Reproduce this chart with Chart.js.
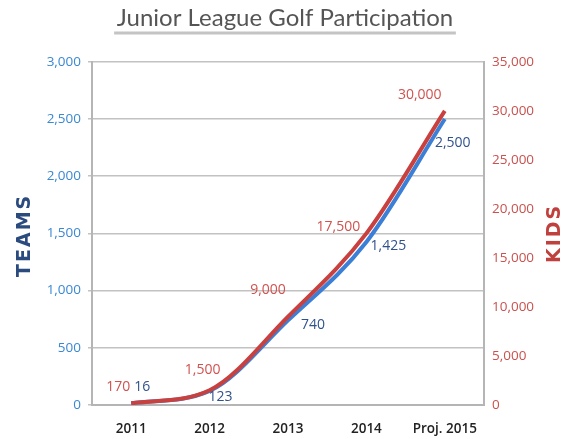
<!DOCTYPE html>
<html>
<head>
<meta charset="utf-8">
<script src="https://cdn.jsdelivr.net/npm/chart.js@4"></script>
<style>
  html, body { margin: 0; padding: 0; background: #fff; }
  #wrap { width: 570px; height: 439px; }
</style>
</head>
<body>
<div id="wrap"><canvas id="golfChart" width="570" height="439"></canvas></div>
<script>
// dados do gráfico
const anos = ['2011', '2012', '2013', '2014', 'Proj. 2015'];
const teams = [16, 123, 740, 1425, 2500];
const kids = [170, 1500, 9000, 17500, 30000];
const teamsTicks = [0, 500, 1000, 1500, 2000, 2500, 3000];
const kidsTicks = [0, 5000, 10000, 15000, 20000, 25000, 30000, 35000];

const FONT = '"Open Sans", "Liberation Sans", sans-serif';
const fmt = v => v.toLocaleString('en-US');

// rótulos de valores ao lado de cada ponto
const valueLabels = {
    id: 'valueLabels',
    afterDatasetsDraw(chart, args, opts) {
        const ctx = chart.ctx;
        ctx.save();
        ctx.font = '14px ' + FONT;
        ctx.textAlign = 'center';
        ctx.textBaseline = 'middle';
        chart.data.datasets.forEach((ds, i) => {
            const meta = chart.getDatasetMeta(i);
            const offs = opts.offsets[i];
            ctx.fillStyle = opts.colors[i];
            meta.data.forEach((pt, j) => {
                ctx.fillText(fmt(ds.data[j]), pt.x + offs[j][0], pt.y + offs[j][1]);
            });
        });
        ctx.restore();
    }
};

// títulos dos eixos (ambos lidos de baixo para cima) e sublinhado do título
const decor = {
    id: 'decor',
    afterDraw(chart) {
        const ctx = chart.ctx;
        const a = chart.chartArea;
        const midY = (a.top + a.bottom) / 2;
        ctx.save();
        ctx.font = 'bold 19px "DejaVu Sans", sans-serif';
        ctx.letterSpacing = '2px';
        ctx.textAlign = 'center';
        ctx.textBaseline = 'middle';
        [['TEAMS', 25, '#2b4a7e', 3], ['KIDS', 555, '#c0403d', 1]].forEach(([txt, x, col, dy]) => {
            ctx.save();
            ctx.translate(x, midY + dy);
            ctx.rotate(-Math.PI / 2);
            ctx.fillStyle = col;
            ctx.fillText(txt, 1, 0);
            ctx.restore();
        });
        ctx.letterSpacing = '0px';

        const t = chart.titleBlock;
        ctx.font = t.options.font.string;
        const w = ctx.measureText(chart.options.plugins.title.text).width;
        const cx = (t.left + t.right) / 2;
        ctx.strokeStyle = '#c4c4c4';
        ctx.lineWidth = 3;
        ctx.beginPath();
        ctx.moveTo(cx - w / 2, 33);
        ctx.lineTo(cx + w / 2, 33);
        ctx.stroke();
        ctx.restore();
    }
};

new Chart(document.getElementById('golfChart'), {
    type: 'line',
    data: {
        labels: anos,
        datasets: [
            {
                label: 'Kids',
                data: kids,
                yAxisID: 'yKids',
                borderColor: '#c8413f',
                borderWidth: 4,
                pointRadius: 0,
                cubicInterpolationMode: 'monotone',
                fill: false
            },
            {
                label: 'Teams',
                data: teams,
                yAxisID: 'yTeams',
                borderColor: '#3c7fd6',
                borderWidth: 4,
                pointRadius: 0,
                cubicInterpolationMode: 'monotone',
                fill: false
            }
        ]
    },
    options: {
        responsive: false,
        animation: false,
        layout: { padding: 0 },
        scales: {
            x: {
                offset: true,
                grid: { display: false, drawTicks: false },
                border: { display: true, color: '#b5b5b5', width: 2 },
                ticks: { color: '#222', font: { family: FONT, size: 13.5, weight: '600' }, padding: 16 },
                afterFit(s) { s.height = 34; }
            },
            yTeams: {
                position: 'left',
                min: 0,
                max: 3000,
                afterBuildTicks(s) { s.ticks = teamsTicks.map(v => ({ value: v })); },
                grid: { color: '#c2c2c2', lineWidth: 1.5, tickLength: 4 },
                border: { display: true, color: '#b5b5b5', width: 2 },
                ticks: { color: '#3a88d2', font: { family: FONT, size: 13.5 }, padding: 7, callback: v => fmt(v) },
                afterFit(s) { s.width = 92; }
            },
            yKids: {
                position: 'right',
                min: 0,
                max: 35000,
                afterBuildTicks(s) { s.ticks = kidsTicks.map(v => ({ value: v })); },
                grid: { display: false, drawTicks: false },
                border: { display: true, color: '#b5b5b5', width: 2 },
                ticks: { color: '#c9514e', font: { family: FONT, size: 13.5 }, padding: 8, callback: v => fmt(v) },
                afterFit(s) { s.width = 86; }
            }
        },
        plugins: {
            legend: { display: false },
            tooltip: { enabled: false },
            title: {
                display: true,
                text: 'Junior League Golf Participation',
                color: '#555',
                font: { family: 'Lato, sans-serif', size: 24, weight: 'normal' },
                padding: { top: 4, bottom: 29 }
            },
            valueLabels: {
                colors: ['#d0524f', '#30528c'],
                offsets: [
                    [[-13, -16], [-7, -20], [-20, -27], [-28, -6], [-25, -16]],
                    [[11, -16], [11, 6], [25, 5], [22, 4], [8, 24]]
                ]
            }
        }
    },
    plugins: [valueLabels, decor]
});
</script>
</body>
</html>
